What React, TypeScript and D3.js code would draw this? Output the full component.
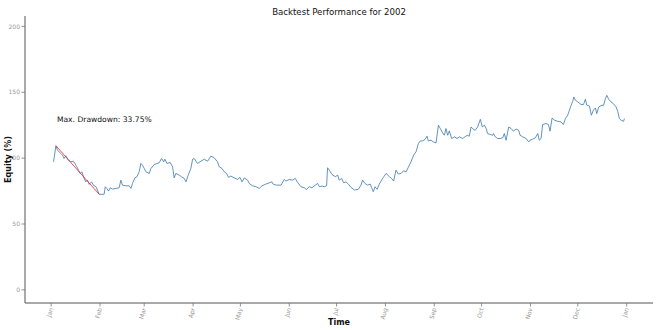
import React from "react";
import * as d3 from "d3";

// day offset from 2002-01-01 for each trading observation
const DAYS: number[] = [
  1.5, 3.0, 4.0, 6.2, 7.2, 8.2, 9.3, 10.8, 12.5, 14.1, 15.0, 16.3, 17.3, 18.4, 19.5, 20.5, 22.0, 23.0, 24.1, 25.6,
  26.8, 28.4, 30.5, 33.6, 34.3, 35.3, 36.4, 37.4, 38.9, 41.1, 43.1, 44.2, 45.2, 47.4, 49.5, 50.6, 51.6, 53.1, 54.4, 55.8,
  56.9, 57.9, 59.0, 60.1, 62.2, 63.3, 65.4, 68.5, 70.0, 71.3, 72.1, 73.4, 75.5, 77.0, 78.0, 79.1, 81.2, 82.7, 84.4, 85.5,
  86.9, 88.6, 89.7, 90.7, 92.8, 95.0, 97.1, 99.2, 101.3, 103.4, 105.5, 106.6, 108.3, 109.8, 111.2, 112.5, 114.0, 116.1, 118.2, 119.7,
  121.0, 122.5, 124.6, 125.6, 127.7, 129.9, 132.0, 133.7, 135.8, 138.3, 140.0, 140.9, 143.0, 145.8, 147.8, 148.9, 151.0, 153.1, 154.8, 156.3,
  158.4, 160.5, 162.0, 163.7, 165.4, 167.5, 169.0, 170.1, 171.8, 173.2, 174.7, 175.3, 176.4, 178.1, 180.2, 181.7, 182.7, 184.2, 185.5, 187.0,
  188.5, 190.2, 192.3, 194.8, 196.5, 197.5, 199.0, 200.7, 202.4, 203.2, 204.3, 205.4, 206.7, 208.1, 210.2, 212.4, 214.5, 215.9, 217.2, 218.7,
  220.2, 221.9, 223.5, 225.1, 226.5, 228.2, 229.9, 231.4, 232.9, 234.1, 235.6, 237.1, 238.4, 239.2, 240.9, 242.4, 244.1, 245.6, 246.8, 248.3,
  249.4, 250.4, 251.5, 252.5, 254.0, 255.7, 257.4, 258.9, 261.0, 262.5, 263.8, 265.2, 266.3, 268.0, 269.0, 270.5, 272.2, 273.4, 274.8, 275.9,
  276.8, 278.4, 280.1, 280.5, 281.7, 283.2, 284.7, 286.4, 287.4, 288.5, 290.2, 291.7, 293.1, 294.9, 296.5, 297.4, 299.0, 301.2, 302.9, 303.7,
  305.4, 307.1, 308.6, 309.6, 310.7, 311.7, 313.9, 315.4, 316.4, 317.7, 319.2, 321.3, 323.4, 324.9, 326.1, 327.6, 328.7, 329.8, 330.8, 331.5,
  332.5, 334.0, 336.1, 337.6, 338.8, 339.7, 341.4, 342.6, 343.9, 345.2, 346.0, 347.3, 349.4, 350.4, 351.5, 352.4, 353.6, 355.1, 356.6, 358.3,
  359.3, 360.4, 361.5, 363.0, 363.6,
];

// equity in percent
const EQUITY: number[] = [
  97.2, 109.4, 106.0, 103.5, 102.3, 99.7, 101.8, 98.5, 97.2, 97.7, 96.0, 93.4, 90.9, 88.4, 89.6, 85.8, 82.0, 83.3, 80.1, 82.0,
  79.5, 78.3, 72.48, 72.6, 78.3, 77.0, 75.0, 77.5, 76.5, 77.0, 77.5, 83.3, 79.5, 79.0, 79.0, 77.0, 80.8, 85.0, 85.9, 89.6,
  96.0, 94.7, 92.2, 89.6, 88.4, 92.2, 95.2, 96.5, 99.7, 97.2, 99.2, 96.0, 96.7, 93.4, 85.0, 88.4, 87.1, 85.8, 84.6, 82.0,
  87.1, 92.2, 99.2, 99.7, 96.0, 97.7, 99.2, 97.7, 101.5, 100.3, 97.2, 93.4, 92.2, 89.6, 88.4, 85.4, 86.4, 85.0, 83.8, 85.4,
  82.0, 85.0, 83.3, 80.8, 79.0, 78.3, 77.0, 79.0, 80.1, 81.3, 82.0, 80.1, 79.5, 79.5, 83.8, 82.6, 83.8, 83.3, 84.6, 81.6,
  78.3, 77.5, 76.2, 78.3, 77.5, 79.5, 80.8, 78.3, 78.8, 78.3, 79.0, 92.7, 90.9, 87.6, 85.9, 87.1, 83.3, 84.6, 81.3, 82.0,
  80.3, 77.8, 75.8, 76.3, 79.5, 83.3, 80.8, 79.5, 80.3, 77.8, 74.5, 78.3, 76.3, 80.3, 84.6, 88.4, 85.9, 84.6, 82.6, 90.9,
  87.9, 88.4, 90.4, 89.6, 93.0, 97.2, 102.3, 104.8, 111.1, 113.1, 113.1, 114.2, 116.7, 113.1, 113.6, 112.3, 111.6, 125.0, 122.5, 119.2,
  117.4, 122.5, 117.4, 120.7, 114.9, 116.2, 114.9, 116.2, 114.9, 116.2, 117.4, 116.7, 123.7, 121.7, 121.2, 123.7, 129.5, 123.7, 125.0, 122.5,
  118.7, 118.0, 117.4, 118.7, 116.2, 114.9, 114.9, 115.4, 118.7, 113.6, 123.7, 122.5, 120.5, 122.0, 121.2, 117.4, 116.2, 114.9, 112.3, 113.6,
  114.4, 115.4, 118.7, 113.6, 114.9, 125.5, 126.3, 125.5, 120.5, 130.5, 128.8, 128.0, 127.5, 125.5, 130.0, 132.6, 136.4, 140.2, 143.2, 146.4,
  144.0, 142.7, 140.7, 140.7, 144.7, 140.2, 139.6, 132.6, 136.4, 138.1, 133.8, 138.9, 140.2, 140.2, 145.2, 147.7, 144.7, 142.7, 141.4, 138.9,
  135.6, 130.0, 128.8, 128.0, 130.0,
];

const Y_TICKS: number[] = [0, 50, 100, 150, 200];
const TITLE = "Backtest Performance for 2002";
const X_TITLE = "Time";
const Y_TITLE = "Equity (%)";

const FONT = "DejaVu Sans, sans-serif";

export default function App() {
  const base = Date.UTC(2002, 0, 1);
  const data = DAYS.map((d, i) => ({ date: new Date(base + d * 864e5), v: EQUITY[i] }));

  // max drawdown
  let runMaxIdx = 0;
  let best = { dd: 0, p: 0, t: 0 };
  data.forEach((pt, i) => {
    if (pt.v > data[runMaxIdx].v) runMaxIdx = i;
    const dd = (data[runMaxIdx].v - pt.v) / data[runMaxIdx].v;
    if (dd > best.dd) best = { dd, p: runMaxIdx, t: i };
  });

  const left = 25, right = 653, top = 16, bottom = 303;
  const ext = d3.extent(data, (d) => d.date.getTime()) as [number, number];
  const pad = (ext[1] - ext[0]) * 0.05;
  const x = d3.scaleUtc().domain([new Date(ext[0] - pad), new Date(ext[1] + pad)]).range([left, right]);
  const y = d3.scaleLinear().domain([-10, 210]).range([bottom, 13.3]);

  const line = d3.line<{ date: Date; v: number }>().x((d) => x(d.date)).y((d) => y(d.v));
  const months = d3.utcMonth.range(new Date(Date.UTC(2002, 0, 1)), new Date(Date.UTC(2003, 0, 2)));
  const fmt = d3.utcFormat("%b");

  const peak = data[best.p];
  const trough = data[best.t];

  return (
    <svg width={660} height={330} style={{ position: "absolute", left: 0, top: 0, background: "#fff" }} fontFamily={FONT}>
      <rect width={660} height={330} fill="#fff" />
      <text x={(left + right) / 2} y={14.5} textAnchor="middle" fontSize={8.6} fill="#111">{TITLE}</text>

      {/* axes */}
      <line x1={left} x2={left} y1={top} y2={bottom} stroke="#555" strokeWidth={1} />
      <line x1={left} x2={right} y1={bottom} y2={bottom} stroke="#555" strokeWidth={1} />

      {Y_TICKS.map((t) => (
        <g key={t}>
          <line x1={left - 3.5} x2={left} y1={y(t)} y2={y(t)} stroke="#777" strokeWidth={0.8} />
          <text x={left - 5} y={y(t)} dy="0.35em" textAnchor="end" fontSize={6} fill="#999">{t}</text>
        </g>
      ))}
      {months.map((m, i) => (
        <g key={i}>
          <line x1={x(m)} x2={x(m)} y1={bottom} y2={bottom + 3.5} stroke="#777" strokeWidth={0.8} />
          <text
            transform={`translate(${x(m)},${bottom + 5}) rotate(-75)`}
            textAnchor="end"
            dy="0.35em"
            fontSize={6}
            fill="#999"
          >
            {fmt(m)}
          </text>
        </g>
      ))}

      <text x={(left + right) / 2} y={325} textAnchor="middle" fontSize={8} fontWeight="bold" fill="#111">{X_TITLE}</text>
      <text transform={`translate(11,${(top + bottom) / 2}) rotate(-90)`} textAnchor="middle" fontSize={8} fontWeight="bold" fill="#111">{Y_TITLE}</text>

      <path d={line(data) || ""} fill="none" stroke="#3a78b0" strokeWidth={0.8} />
      <line x1={x(peak.date)} y1={y(peak.v)} x2={x(trough.date)} y2={y(trough.v)} stroke="#ff2020" strokeWidth={0.8} />
      <text x={x(peak.date) + 1} y={y(129.5)} dy="0.35em" fontSize={7.6} fill="#111">
        {`Max. Drawdown: ${(best.dd * 100).toFixed(2)}%`}
      </text>
    </svg>
  );
}
